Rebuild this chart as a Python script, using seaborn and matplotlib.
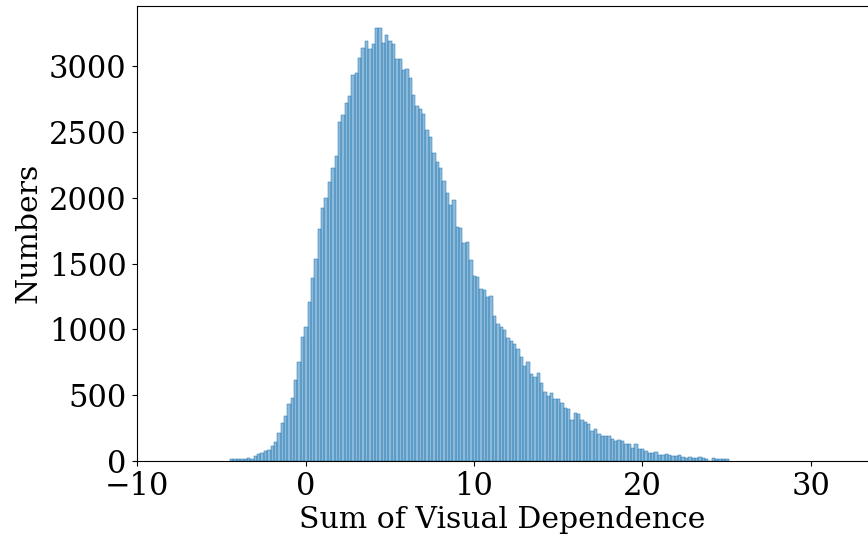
import numpy as np
import pandas as pd
import matplotlib
matplotlib.use("Agg")
import matplotlib.pyplot as plt
import seaborn as sns

# Histogram data (bin width 0.2 starting at -4.48)
bin_start = -4.48
bin_width = 0.2
counts = [
    11, 11, 11, 12, 15, 20, 12, 34, 49, 60, 72, 80, 110, 143, 209, 285, 339, 430, 476, 614,
    753, 941, 1017, 1208, 1391, 1535, 1764, 1924, 2000, 2122, 2229, 2320, 2579, 2633, 2724,
    2778, 2938, 2953, 3067, 3143, 3197, 3136, 3174, 3296, 3296,
    3181, 3242, 3197, 3174, 3059, 3059, 2975, 2983, 2915, 2785, 2701, 2678, 2640, 2518, 2465,
    2343, 2274, 2229, 2130, 2038, 1947, 1985,
    1779, 1771, 1657, 1665, 1528, 1406, 1398, 1307, 1299, 1246, 1253, 1101, 1040, 1017, 994,
    933, 911, 888, 850, 789, 720, 751,
    659, 636, 667, 591, 522, 491, 514, 469, 469, 438, 400, 392, 309, 362, 354, 309, 293, 278,
    225, 240, 202, 187, 187, 187, 164,
    149, 156, 149, 126, 126, 95, 126, 88, 88, 72, 57, 57, 65, 42, 42, 50, 42, 34, 34, 42,
    27, 19, 27, 19, 19, 27, 19, 11, 0, 19, 11, 11, 11, 10,
]
x_label = "Sum of Visual Dependence"
y_label = "Numbers"
x_ticks = [-10, 0, 10, 20, 30]

edges = [float(e) for e in bin_start + bin_width * np.arange(len(counts) + 1)]
centers = [e + bin_width / 2 for e in edges[:-1]]
df = pd.DataFrame({"value": centers, "count": counts})

plt.rcParams['font.family'] = ['DejaVu Serif']
fig = plt.figure(figsize=(8.68, 5.4), dpi=100)
ax = fig.add_axes([0.158, 0.147, 0.842, 0.842])
sns.histplot(data=df, x="value", weights="count", bins=edges, ax=ax,
             color="#1f77b4", alpha=0.5, edgecolor="#1f77b4", linewidth=0.35)
ax.set_xlim(-10, 33.4)
ax.set_xticks(x_ticks)
ax.spines['right'].set_visible(False)
ax.set_xlabel(x_label, fontsize=21.5, labelpad=3)
ax.set_ylabel(y_label, fontsize=21.5, labelpad=5)
ax.tick_params(labelsize=22, pad=4)
fig.savefig("out.png", dpi=100)
